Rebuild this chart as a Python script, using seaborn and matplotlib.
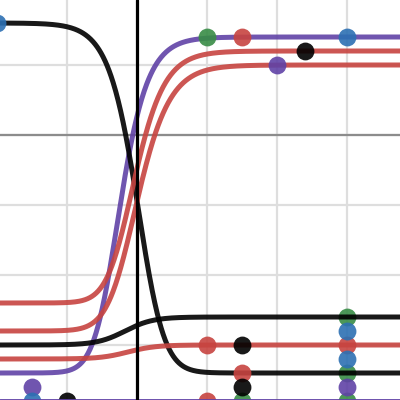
import matplotlib
matplotlib.use("Agg")
import matplotlib.pyplot as plt
import seaborn as sns
import numpy as np

# view window (one grid cell = 1 unit, 70 px)
x_min, x_max = -137 / 70, 263 / 70
y_min, y_max = -265 / 70, 135 / 70

# points
blue_x = [-2, 3, -1.5, 3, 3]
blue_y = [1.6, 1.4, -3.8, -2.8, -3.2]
green_x = [1, 3, 3, 1.5, 3]
green_y = [1.4, -2.6, -3.4, -3.8, -3.8]
red_x = [1.5, 1, 1.5, 1, 3]
red_y = [1.4, -3.0, -3.4, -3.8, -3.0]
black_x = [2.4, -1, 1.5, 1.5]
black_y = [1.2, -3.8, -3.0, -3.6]
purple_x = [2, -1.5, 3]
purple_y = [1.0, -3.6, -3.6]

# s-curves: low level, high level, centre, steepness, skew
curve_names = ["black_big", "purple", "red_upper", "red_lower", "black_small", "red_small"]
curve_low = [-3.4, -3.4, -2.4, -2.8, -3.0, -3.2]
curve_high = [1.6, 1.4, 1.2, 1.0, -2.6, -3.0]
curve_mid = [0.144, -0.44, -0.243, -0.22, -0.17, -0.13]
curve_k = [-4.4, 4.4, 4.1, 3.8, 5.0, 5.0]
curve_nu = [0.6, 0.5, 0.5, 0.5, 1.0, 1.0]
curve_col = ["#000000", "#6042a6", "#c74440", "#c74440", "#000000", "#c74440"]
curve_z = [4, 2, 5, 5, 4, 5]

flat_purple_y = -3.8
vline_x = 0

sns.set_style("whitegrid", {"grid.color": "#dedede"})
fig = plt.figure(figsize=(4, 4), dpi=100)
ax = fig.add_axes([0, 0, 1, 1])

xs = np.linspace(x_min, x_max, 800)
for lo, hi, c, k, nu, col, z in zip(curve_low, curve_high, curve_mid, curve_k,
                                    curve_nu, curve_col, curve_z):
    ys = lo + (hi - lo) * (1 + np.exp(-k * (xs - c))) ** (-1 / nu)
    sns.lineplot(x=xs, y=ys, color=col, lw=3.6, alpha=0.9, sort=False,
                 ax=ax, zorder=z)

ax.axhline(0, color="#8c8c8c", lw=1.6, zorder=1.5)
ax.axhline(flat_purple_y, color="#6042a6", lw=3.6, alpha=0.9, zorder=7)
ax.axvline(vline_x, color="#000000", lw=2.3, zorder=8)

pt = dict(s=165, linewidth=0, alpha=0.9, ax=ax, legend=False)
sns.scatterplot(x=green_x, y=green_y, color="#388c46", zorder=3, **pt)
sns.scatterplot(x=red_x, y=red_y, color="#c74440", zorder=6, **pt)
sns.scatterplot(x=black_x, y=black_y, color="#000000", zorder=6, **pt)
sns.scatterplot(x=purple_x, y=purple_y, color="#6042a6", zorder=6, **pt)
sns.scatterplot(x=blue_x, y=blue_y, color="#2d70b3", zorder=6, **pt)

ax.set_xlim(x_min, x_max)
ax.set_ylim(y_min, y_max)
ax.set_xticks(np.arange(-1, 4))
ax.set_yticks(np.arange(-3, 2))
ax.grid(True, lw=1.6)
ax.tick_params(length=0, labelbottom=False, labelleft=False)
ax.set_xlabel("")
ax.set_ylabel("")
for s in ax.spines.values():
    s.set_visible(False)

fig.savefig("out.png", dpi=100)
